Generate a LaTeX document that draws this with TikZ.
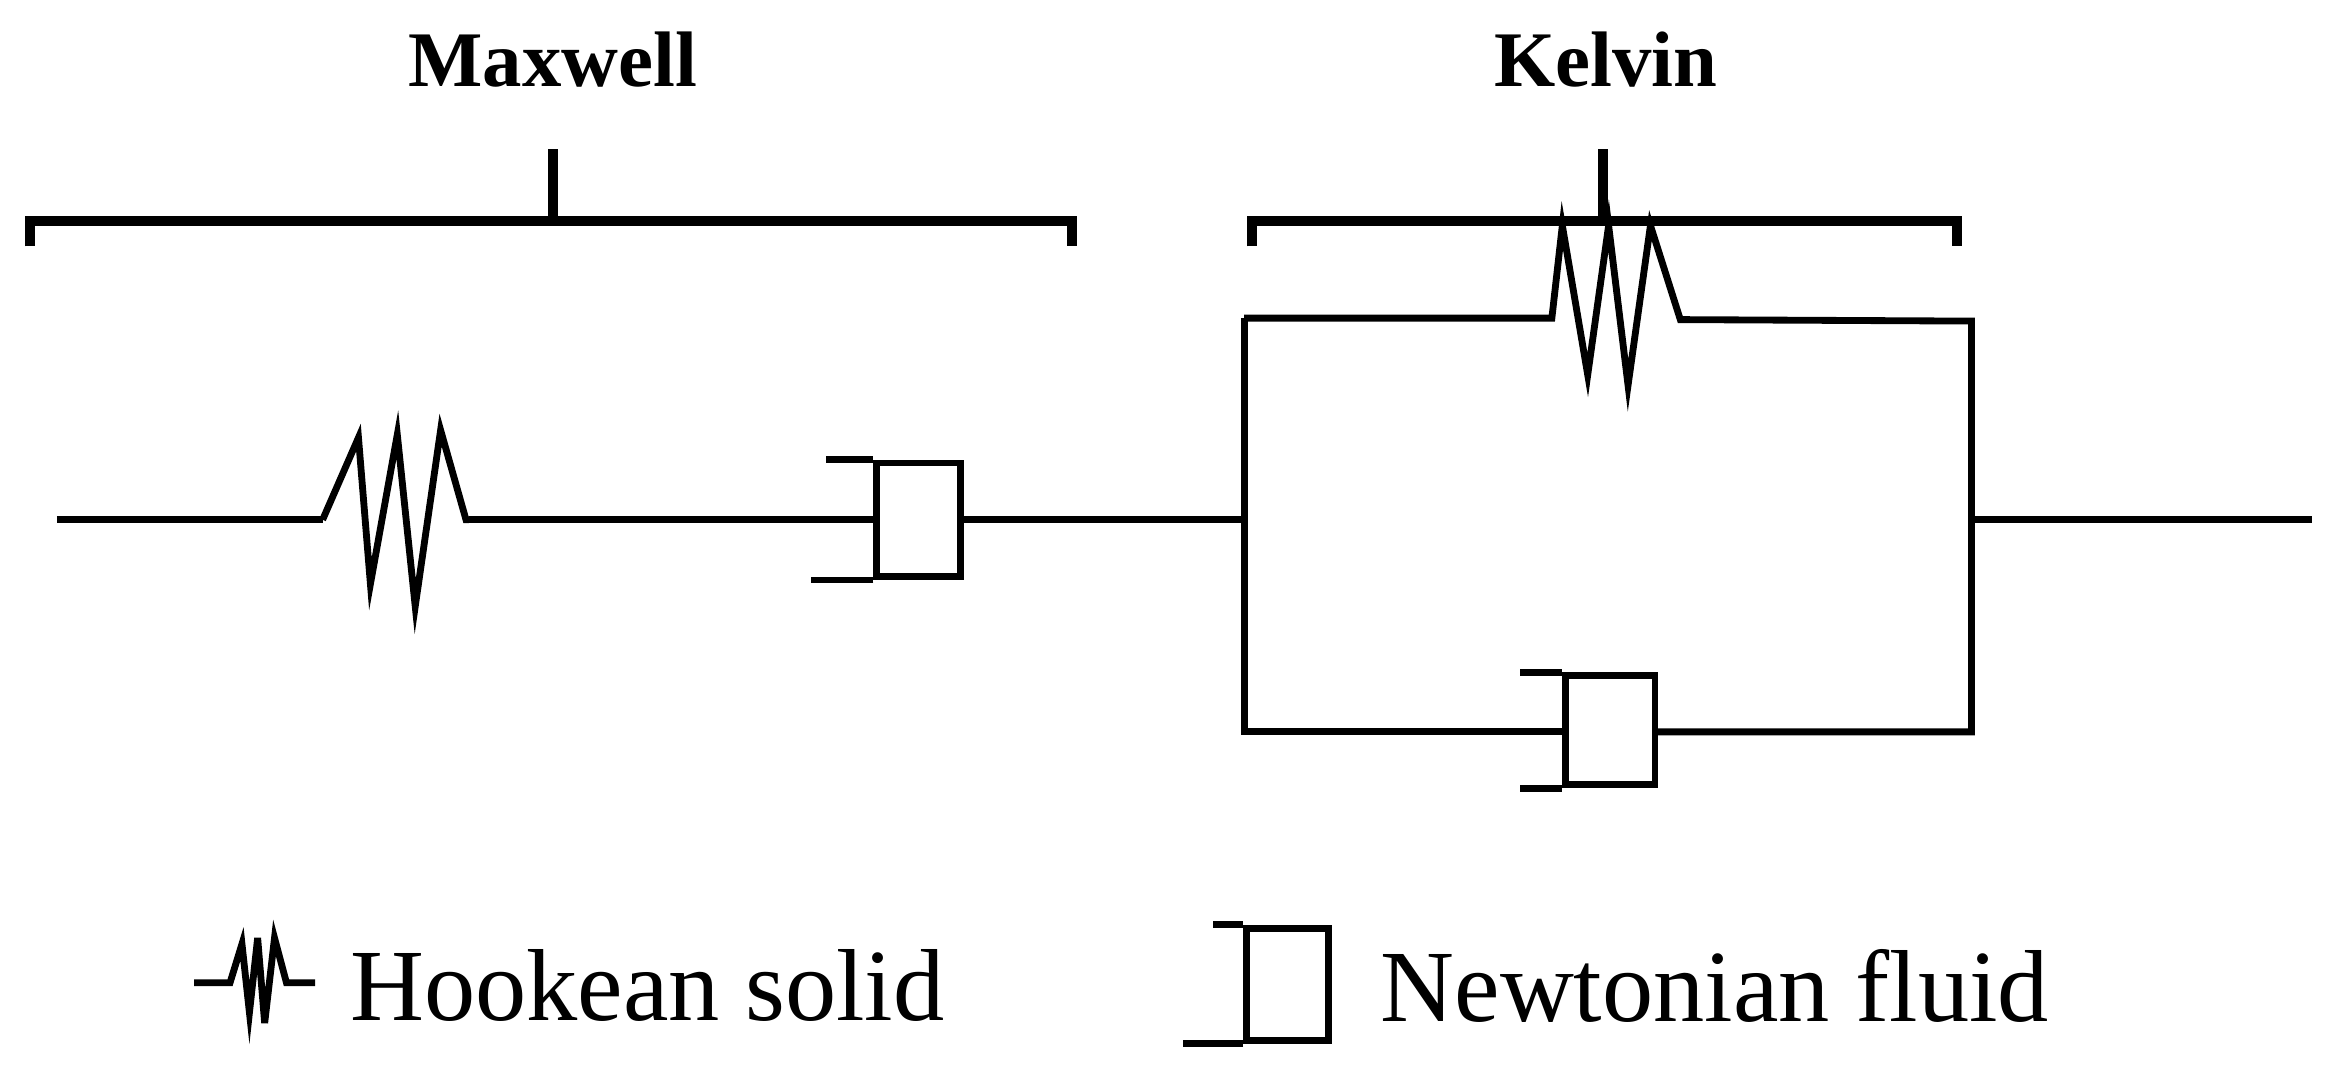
\documentclass[tikz,border=0pt]{standalone}
\usepackage{fontspec}
\setmainfont{Liberation Serif}
\usetikzlibrary{positioning}
\tikzset{
  wire/.style={line width=1.3pt},
  brace/.style={line width=1.9pt},
  title/.style={font=\fontsize{15}{17}\selectfont\bfseries},
  legend/.style={font=\fontsize{19.5}{22}\selectfont, anchor=west},
}
\begin{document}
\begin{tikzpicture}
\useasboundingbox (0,3.56) rectangle (15.6,10.78);
% titles and braces
\node[title] (maxwell) at (3.7,10.38) {Maxwell};
\node[title] (kelvin) at (10.75,10.38) {Kelvin};
\draw[brace] (0.2,9.13) -- (0.2,9.3) -- (7.18,9.3) -- (7.18,9.13);
\draw[brace] (3.7,9.3) -- (3.7,9.78);
\draw[brace] (8.38,9.13) -- (8.38,9.3) -- (13.1,9.3) -- (13.1,9.13);
\draw[brace] (10.73,9.3) -- (10.73,9.78);
% Maxwell branch
\coordinate (in) at (0.38,7.3);
\coordinate (s1a) at (2.16,7.3);
\coordinate (s1b) at (3.14,7.3);
\draw[wire] (in) -- (s1a);
\draw[wire] (s1a) -- ++(0.24,0.55) -- ++(0.08,-0.98) -- ++(0.18,1.0) -- ++(0.12,-1.15) -- ++(0.17,1.18) -- ++(0.17,-0.6) -- (s1b);
\node[draw, wire, minimum width=0.56cm, minimum height=0.76cm, inner sep=0pt] (d1) at (6.15,7.3) {};
\draw[wire] (d1.north west) -- ++(-0.32,0);
\draw[wire] (d1.south west) -- ++(-0.42,0);
\draw[wire] (s1b) -- (d1.west);
% Kelvin branch
\coordinate (kl) at (8.33,7.3);
\coordinate (kr) at (13.2,7.3);
\coordinate (out) at (15.48,7.3);
\draw[wire] (d1.east) -- (kl);
\draw[wire] (kr) -- (out);
\draw[wire] (8.33,8.65) -- (8.33,5.88) -- (10.48,5.88);
\draw[wire] (8.33,8.65) -- (10.39,8.65) -- ++(0.07,0.62) -- ++(0.17,-1.0) -- ++(0.14,1.0) -- ++(0.13,-1.07) -- ++(0.15,1.07) -- ++(0.2,-0.63) -- (13.2,8.63) -- (13.2,5.88) -- (11.08,5.88);
\node[draw, wire, minimum width=0.6cm, minimum height=0.73cm, inner sep=0pt] (d2) at (10.78,5.89) {};
\draw[wire] (d2.north west) -- ++(-0.28,0);
\draw[wire] (d2.south west) -- ++(-0.28,0);
% legend
\draw[wire] (1.3,4.2) -- (1.54,4.2) -- ++(0.08,0.26) -- ++(0.05,-0.46) -- ++(0.055,0.5) -- ++(0.047,-0.57) -- ++(0.066,0.57) -- ++(0.08,-0.3) -- (2.11,4.2);
\node[legend] (hooke) at (2.22,4.18) {Hookean solid};
\node[draw, wire, minimum width=0.55cm, minimum height=0.75cm, inner sep=0pt] (d3) at (8.62,4.19) {};
\draw[wire] (d3.north west) -- ++(-0.2,0);
\draw[wire] (d3.south west) -- ++(-0.4,0);
\node[legend] (newton) at (9.12,4.18) {Newtonian fluid};
\end{tikzpicture}
\end{document}
